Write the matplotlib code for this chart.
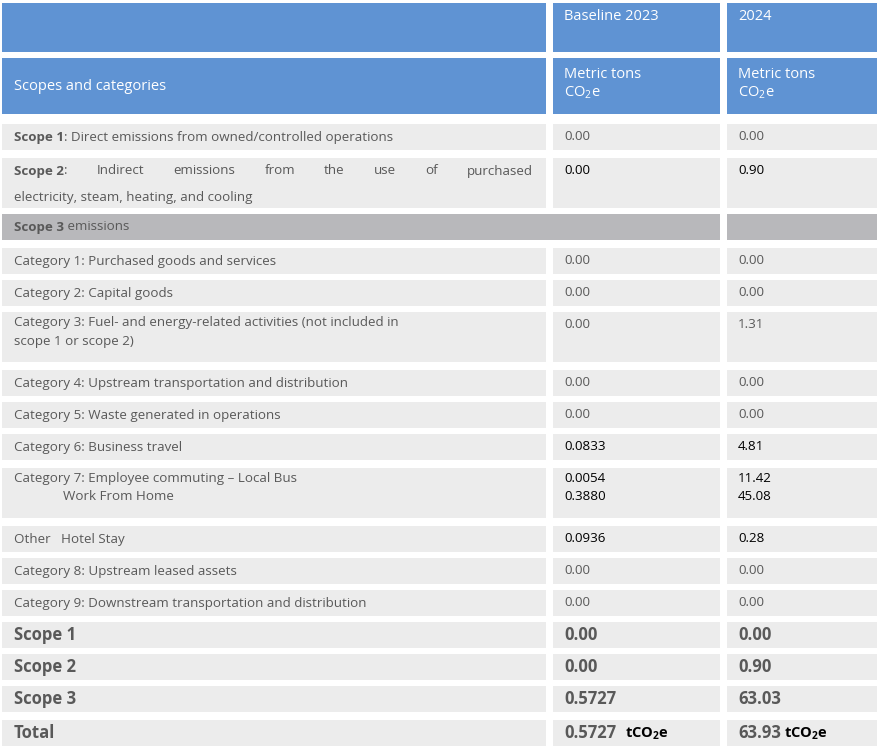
import matplotlib
matplotlib.use("Agg")
import matplotlib.pyplot as plt
from matplotlib.patches import Rectangle

plt.rcParams['font.family'] = ['Open Sans', 'DejaVu Sans']
plt.rcParams['mathtext.fontset'] = 'custom'
plt.rcParams['mathtext.rm'] = 'Open Sans'
plt.rcParams['mathtext.bf'] = 'Open Sans:bold'

col_headers_top = ["", "Baseline 2023", "2024"]
col_headers_sub = ["Scopes and categories", "Metric tons\nCO$_2$e", "Metric tons\nCO$_2$e"]

labels = [
    "Direct emissions from owned/controlled operations",
    "Indirect emissions from the use of purchased electricity, steam, heating, and cooling",
    "Scope 3 emissions",
    "Category 1: Purchased goods and services",
    "Category 2: Capital goods",
    "Category 3: Fuel- and energy-related activities (not included in\nscope 1 or scope 2)",
    "Category 4: Upstream transportation and distribution",
    "Category 5: Waste generated in operations",
    "Category 6: Business travel",
    "Category 7: Employee commuting \u2013 Local Bus\n              Work From Home",
    "Other   Hotel Stay",
    "Category 8: Upstream leased assets",
    "Category 9: Downstream transportation and distribution",
    "Scope 1", "Scope 2", "Scope 3", "Total",
]
baseline_2023 = ["0.00", "0.00", "", "0.00", "0.00", "0.00", "0.00", "0.00", "0.0833",
                 "0.0054\n0.3880", "0.0936", "0.00", "0.00", "0.00", "0.00", "0.5727", "0.5727"]
values_2024 = ["0.00", "0.90", "", "0.00", "0.00", "1.31", "0.00", "0.00", "4.81",
               "11.42\n45.08", "0.28", "0.00", "0.00", "0.00", "0.90", "63.03", "63.93"]

# layout (pixels)
row_spans = [(124,150),(158,208),(214,240),(248,274),(280,306),(312,362),(370,396),(402,428),
             (434,460),(468,518),(526,552),(558,584),(590,616),(622,648),(654,680),(686,712),(720,746)]
cols = [(2,546),(553,720),(727,878)]
BLUE = "#5f93d3"; LIGHT = "#ececec"; DARK = "#b8b8bb"; GREY = "#595959"
black_rows = {1, 8, 9, 10}

fig = plt.figure(figsize=(8.78, 7.52), dpi=100)
ax = fig.add_axes([0, 0, 1, 1])
ax.set_xlim(0, 878); ax.set_ylim(752, 0); ax.axis('off')

def rect(x0, x1, y0, y1, c):
    ax.add_patch(Rectangle((x0, y0), x1-x0, y1-y0, facecolor=c, edgecolor='none'))

fs = 9.6
for i, (x0, x1) in enumerate(cols):
    rect(x0, x1, 3, 52, BLUE)
    rect(x0, x1, 58, 114, BLUE)
    if col_headers_top[i]:
        ax.text(x0+11, 17, col_headers_top[i], color='white', fontsize=10.5, va='center')
    if i == 0:
        ax.text(x0+12, 87, col_headers_sub[i], color='white', fontsize=10.5, va='center')
    else:
        ax.text(x0+11, 84, col_headers_sub[i], color='white', fontsize=10.5, va='center', linespacing=1.25)

fig.canvas.draw()
r = fig.canvas.get_renderer()

for k, (y0, y1) in enumerate(row_spans):
    if k == 2:
        rect(cols[0][0], cols[1][1], y0, y1, DARK)
        rect(cols[2][0], cols[2][1], y0, y1, DARK)
    else:
        for (x0, x1) in cols:
            rect(x0, x1, y0, y1, LIGHT)
    big = k >= 13
    ty = y0 + 13
    if k in (0, 1, 2):
        bold = "Scope 1" if k == 0 else ("Scope 2" if k == 1 else "Scope 3")
        t = ax.text(14, ty, bold, fontsize=fs, fontweight='bold', color=GREY, va='center')
        w = t.get_window_extent(r).width
        if k == 0:
            ax.text(14+w, ty, ": " + labels[k], fontsize=fs, color=GREY, va='center')
        elif k == 2:
            ax.text(14+w, ty, " emissions", fontsize=fs, color=GREY, va='center')
        else:
            words = [":"] + "Indirect emissions from the use of purchased".split()
            ws = []
            for wd in words:
                tt = ax.text(0, -100, wd, fontsize=fs)
                ws.append(tt.get_window_extent(r).width); tt.remove()
            right = 533
            avail = right - (14 + w) - sum(ws)
            gap = avail / (len(words) - 1)
            x = 14 + w
            for j, wd in enumerate(words):
                ax.text(x, ty, wd, fontsize=fs, color=GREY, va='center')
                x += ws[j] + gap
            ax.text(14, ty + 26, "electricity, steam, heating, and cooling", fontsize=fs, color=GREY, va='center')
    elif big:
        ax.text(14, ty, labels[k], fontsize=12, fontweight='bold', color=GREY, va='center')
    elif '\n' in labels[k]:
        ax.text(14, y0 + 4, labels[k], fontsize=fs, color=GREY, va='top', linespacing=1.55)
    else:
        ax.text(14, ty, labels[k], fontsize=fs, color=GREY, va='center')
    for (x0, x1), val in zip(cols[1:], (baseline_2023[k], values_2024[k])):
        if not val:
            continue
        c = 'black' if k in black_rows else GREY
        if big:
            t = ax.text(x0+11, ty, val, fontsize=12, fontweight='bold', color=GREY, va='center')
            if k == 16:
                w = t.get_window_extent(r).width
                ax.text(x0+11+w+(9 if x0 < 700 else 3), ty+1, r"t$\mathbf{CO_2e}$", fontsize=10.5,
                        fontweight='bold', color='black', va='center')
        elif '\n' in val:
            ax.text(x0+11, y0+4, val, fontsize=fs, color=c, va='top', linespacing=1.55)
        else:
            ax.text(x0+11, ty, val, fontsize=fs, color=c, va='center')

fig.savefig("out.png", dpi=100)
